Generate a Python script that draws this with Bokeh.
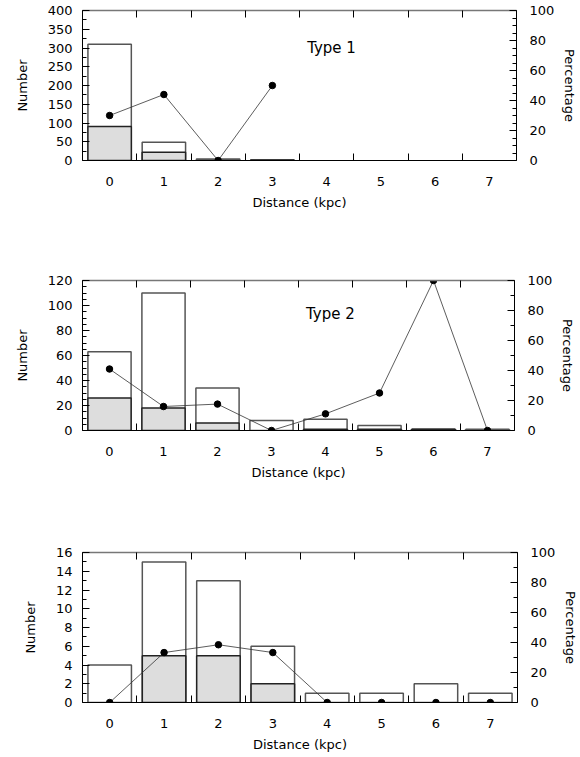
from bokeh.plotting import figure
from bokeh.models import Range1d, LinearAxis, FixedTicker, Label
from bokeh.layouts import column
from bokeh.embed import file_html
from bokeh.resources import INLINE

# ---------------- data ----------------
distance = [0, 1, 2, 3, 4, 5, 6, 7]

type1_x = [0, 1, 2, 3]
type1_total = [310, 49, 4, 2]
type1_shaded = [91, 22, 0, 1]
type1_pct = [30, 44, 0, 50]

type2_x = [0, 1, 2, 3, 4, 5, 6, 7]
type2_total = [63, 110, 34, 8, 9, 4, 1, 1]
type2_shaded = [26, 18, 6, 0, 1, 1, 1, 0]
type2_pct = [41, 16, 17.6, 0, 11.1, 25, 100, 0]

type3_x = [0, 1, 2, 3, 4, 5, 6, 7]
type3_total = [4, 15, 13, 6, 1, 1, 2, 1]
type3_shaded = [0, 5, 5, 2, 0, 0, 0, 0]
type3_pct = [0, 33.3, 38.5, 33.3, 0, 0, 0, 0]

FONT = "DejaVu Sans"


def style_axis(ax):
    ax.major_label_text_font = FONT
    ax.major_label_text_font_size = "13px"
    ax.major_label_text_color = "black"
    ax.axis_label_text_font = FONT
    ax.axis_label_text_font_size = "13px"
    ax.axis_label_text_font_style = "normal"
    ax.axis_label_text_color = "black"
    ax.axis_line_color = "black"
    ax.major_tick_line_color = "black"
    ax.minor_tick_line_color = "black"
    ax.major_tick_out = 0
    ax.minor_tick_out = 0


def panel(xs, total, shaded, pct, ymax, ymajor, yminor, pminor, title,
          left, fwidth, right, top, bottom, title_pos=None):
    p = figure(frame_width=fwidth, frame_height=150,
               min_border_left=left, min_border_right=right,
               min_border_top=top, min_border_bottom=bottom,
               x_range=Range1d(-0.5, 7.5), y_range=Range1d(0, ymax),
               output_backend="svg", toolbar_location=None,
               background_fill_color="white", border_fill_color="white")
    p.outline_line_color = None
    p.xgrid.visible = False
    p.ygrid.visible = False
    p.extra_y_ranges = {"pct": Range1d(0, 100)}

    bounds = [d - 0.5 for d in distance] + [distance[-1] + 0.5]

    # bottom axis
    xa = p.xaxis[0]
    xa.ticker = FixedTicker(ticks=distance, minor_ticks=bounds)
    xa.axis_label = "Distance (kpc)"
    style_axis(xa)
    xa.major_tick_in = 0
    xa.minor_tick_in = 7
    xa.major_label_standoff = 16
    xa.axis_label_standoff = 6

    # top axis (tick marks only, no labels)
    ta = LinearAxis(ticker=FixedTicker(ticks=[], minor_ticks=bounds))
    style_axis(ta)
    ta.major_label_standoff = 0
    ta.major_tick_in = 0
    ta.minor_tick_in = 7
    ta.axis_line_color = "#777777"
    ta.axis_line_width = 1.5
    p.add_layout(ta, "above")

    # left axis
    ya = p.yaxis[0]
    ya.ticker = FixedTicker(ticks=ymajor, minor_ticks=yminor)
    ya.axis_label = "Number"
    style_axis(ya)
    ya.major_tick_in = 7
    ya.minor_tick_in = 4
    ya.major_label_standoff = 10
    ya.axis_label_standoff = 15

    # right axis
    ra = LinearAxis(y_range_name="pct",
                    ticker=FixedTicker(ticks=[0, 20, 40, 60, 80, 100],
                                       minor_ticks=pminor),
                    axis_label="Percentage")
    style_axis(ra)
    ra.major_tick_in = 7
    ra.minor_tick_in = 4
    ra.major_label_standoff = 13
    ra.axis_label_standoff = 5
    p.add_layout(ra, "right")

    # bars
    p.vbar(x=xs, top=total, bottom=0, width=0.8, fill_color="white",
           line_color="#555555", line_width=1.5)
    sx = [x for x, s in zip(xs, shaded) if s > 0]
    sv = [s for s in shaded if s > 0]
    p.vbar(x=sx, top=sv, bottom=0, width=0.8, fill_color="#dddddd",
           line_color="#222222", line_width=1.5)

    # percentage line
    px = xs[:len(pct)]
    p.line(px, pct, y_range_name="pct", line_color="#333333", line_width=0.8)
    p.scatter(px, pct, y_range_name="pct", size=6.5, fill_color="black",
              line_color="black")

    if title:
        p.add_layout(Label(x=title_pos[0], y=title_pos[1], y_range_name="pct",
                           text=title, text_align="center",
                           text_baseline="middle", text_font=FONT,
                           text_font_size="15px", text_color="black"))
    return p


p1 = panel(type1_x, type1_total, type1_shaded, type1_pct, 400,
           list(range(0, 401, 50)), list(range(25, 400, 50)),
           list(range(5, 100, 5)), "Type 1",
           left=82, fwidth=434, right=64, top=10, bottom=60,
           title_pos=(4.09, 75))
p2 = panel(type2_x, type2_total, type2_shaded, type2_pct, 120,
           list(range(0, 121, 20)), list(range(5, 120, 5)),
           list(range(10, 100, 20)), "Type 2",
           left=82, fwidth=432, right=66, top=60, bottom=60,
           title_pos=(4.09, 78))
p3 = panel(type3_x, type3_total, type3_shaded, type3_pct, 16,
           list(range(0, 17, 2)), list(range(1, 16, 2)),
           list(range(10, 100, 20)), None,
           left=78, fwidth=435, right=67, top=62, bottom=45)

layout = column(p1, p2, p3, spacing=0)

open("out.html", "w").write(file_html(layout, INLINE))
